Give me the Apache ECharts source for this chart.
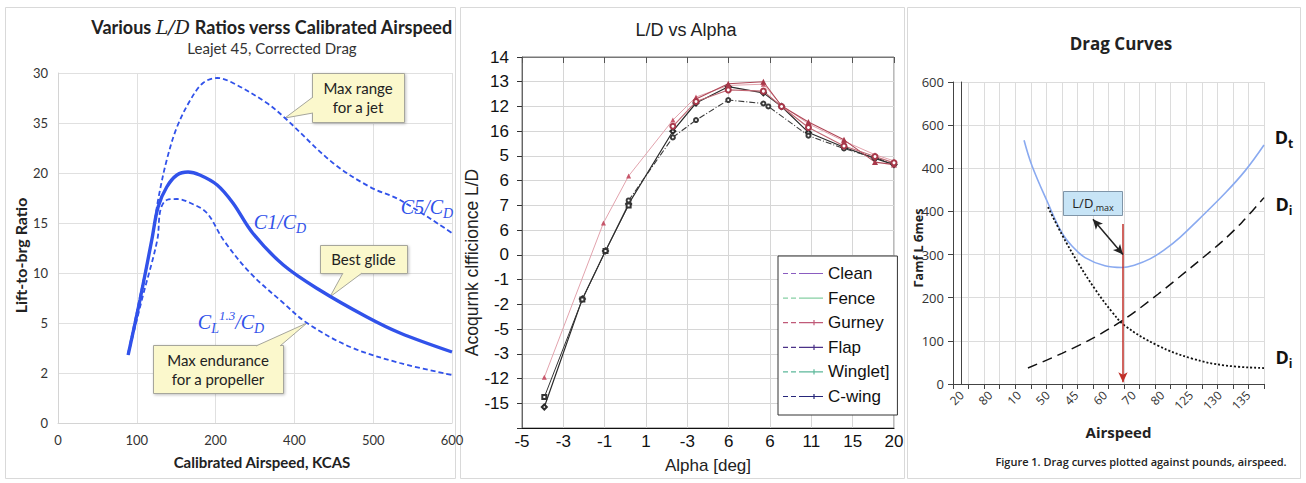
<!DOCTYPE html>
<html><head><meta charset="utf-8">
<script src="https://cdn.jsdelivr.net/npm/echarts@6/dist/echarts.min.js"></script>
<style>html,body{margin:0;padding:0;background:#fff}#c{width:1306px;height:483px}</style>
</head><body><div id="c"></div>
<script>
// ---------- Left panel: Various L/D ratios vs calibrated airspeed ----------
const kcasTicks = ['0','100','200','400','500','600'];
const ratioTicks = ['0','2','5','10','15','20','35','30'];
const c5cd = [[89,7.0],[104,12.6],[119,18.3],[127,22.3],[138,26.3],[151,29.6],[168,32.3],[184,34.0],[202,34.5],[222,34.0],[265,32.0],[288,30.5],[349,26.0],[396,23.6],[434,22.3],[500,19.0]];
const c1cd = [[89,6.8],[104,12.3],[119,18.3],[127,21.6],[138,23.6],[151,24.8],[165,25.1],[180,24.8],[202,23.8],[222,22.0],[247,19.0],[286,15.8],[332,13.3],[392,10.6],[434,9.0],[500,7.1]];
const cl13cd = [[89,6.8],[107,12.5],[126,18.3],[130,21.3],[138,22.3],[151,22.4],[168,22.0],[189,21.0],[210,18.3],[244,15.0],[286,12.0],[316,10.0],[371,7.6],[434,6.0],[500,4.8]];
const maxRangeTip = [288,30.5];
const bestGlideTip = [345,12.6];
const maxEnduranceTip = [316,10.0];

// ---------- Middle panel: L/D vs Alpha ----------
const alphaTicks = ['-5','-3','-1','1','-3','6','6','11','15','20'];
const effTicks = ['','-15','-12','-3','-5','-2','-1','0','6','7','6','5','16','12','13','14'];
const legendNames = ['Clean','Fence','Gurney','Flap','Winglet]','C-wing'];
const cleanLD = [[0.54,0.85],[1.46,5.22],[2.02,7.16],[2.58,9.06],[3.65,12.0],[4.21,13.14],[4.99,13.8],[5.84,13.55],[6.28,13.0],[6.93,11.95],[7.79,11.35],[8.54,10.9],[9.0,10.65]];
const fenceLD = [[2.58,9.2],[3.65,11.75],[4.21,12.45],[4.99,13.26],[5.84,13.12],[5.96,13.0],[6.93,11.82],[7.79,11.3],[8.54,10.92],[9.0,10.7]];
const gurneyLD = [[0.54,2.05],[1.97,8.29],[2.58,10.19],[3.65,12.45],[4.21,13.38],[4.99,13.85],[5.84,13.9],[6.28,13.05],[6.93,12.3],[7.79,11.6],[8.54,11.05],[9.0,10.8]];
const flapLD = [[4.21,13.3],[4.99,13.92],[5.84,14.0],[6.28,13.02],[6.93,12.37],[7.79,11.65],[8.54,10.75],[9.0,10.65]];
const wingletLD = [[3.65,12.2],[4.21,13.2],[4.99,13.67],[5.84,13.62],[6.28,13.0],[6.93,12.15],[7.79,11.4],[8.54,10.98],[9.0,10.72]];
const cwingLD = [[0.54,1.25],[1.46,5.2],[2.02,7.16],[2.58,9.0]];

// ---------- Right panel: Drag curves ----------
const dragTicks = ['0','100','200','300','400','400','600','600'];
const airspeedTicks = ['20','80','10','50','45','60','70','80','125','130','135'];
const dragTotal = [[4.57,565],[5.08,506],[6.11,419],[7.01,350],[7.65,320],[8.49,293],[9.77,274],[10.87,270],[11.7,276],[12.67,290],[13.63,312],[14.6,340],[15.76,380],[17.49,442],[18.78,494],[20,554]];
const dragInduced = [[4.82,37],[7.01,71],[8.94,105],[11.06,151],[13.18,208],[15.37,272],[17.3,330],[18.59,375],[20,432]];
const dragParasite = [[6.11,410],[7.01,346],[8.04,281],[9.13,220],[10.23,167],[11.06,135],[13.18,89],[15.37,59],[17.49,43],[20,37]];
const ldMaxSpeedLine = [[10.93,371],[10.93,4]];
const ldMaxPointer = [[9.0,382],[10.93,300]];

const fontL = 'Lato, "Open Sans", sans-serif';
const fontM = '"Liberation Sans", Arial, sans-serif';
const fontR = '"Open Sans", Lato, sans-serif';
const blue = '#3152ea';

const chart = echarts.init(document.getElementById('c'), null, {renderer:'svg', width:1306, height:483});

function lgIcon(plus){
  let p = 'path://M0,4h5v1.2h-5z M8,4h5v1.2h-5z M16,4h24v1.2h-24z';
  if (plus) p += ' M30.4,2h1.2v5.2h-1.2z M28.5,4h5v1.2h-5z';
  return p;
}
const legendColors = ['#8a5cc0','#86d0a4','#c05a78','#4b3288','#5cb89a','#26267a'];

const option = {
  animation:false,
  backgroundColor:'#fff',
  grid:[
    {left:58, top:73, width:394, height:350},
    {left:522, top:57, width:372, height:371, show:true, borderColor:'#777', borderWidth:1},
    {left:953, top:82, width:311, height:302}
  ],
  xAxis:[
    {gridIndex:0, type:'value', min:0, max:500, interval:100,
      axisLine:{lineStyle:{color:'#d4d4d4'}}, axisTick:{show:false},
      splitLine:{lineStyle:{color:'#e0e0e0'}},
      axisLabel:{formatter:v=>kcasTicks[Math.round(v/100)], color:'#333', fontSize:13, fontFamily:fontL, margin:10},
      name:'Calibrated Airspeed, KCAS', nameLocation:'middle', nameGap:31,
      nameTextStyle:{fontFamily:fontL, fontWeight:'bold', fontSize:15, color:'#222', padding:[0,0,0,14]}},
    {gridIndex:1, type:'value', min:0, max:9, interval:1,
      axisLine:{lineStyle:{color:'#111', width:1.2}}, axisTick:{show:false},
      splitLine:{lineStyle:{color:'#d6d6d6'}},
      axisLabel:{formatter:v=>alphaTicks[Math.round(v)], color:'#111', fontSize:17, fontFamily:fontM, margin:5},
      name:'Alpha [deg]', nameLocation:'middle', nameGap:29,
      nameTextStyle:{fontFamily:fontM, fontSize:17, color:'#222'}},
    {gridIndex:1, type:'value', min:0, max:9, interval:1, position:'top',
      axisLine:{lineStyle:{color:'#777'}}, axisTick:{inside:true, length:6, lineStyle:{color:'#555'}},
      axisLabel:{show:false}, splitLine:{show:false}},
    {gridIndex:2, type:'value', min:0, max:20, interval:1,
      axisLine:{lineStyle:{color:'#444'}}, axisTick:{length:5, lineStyle:{color:'#444'}},
      splitLine:{lineStyle:{color:'#dcdcdc'}}, axisLabel:{show:false},
      name:'Airspeed', nameLocation:'middle', nameGap:40,
      nameTextStyle:{fontFamily:fontR, fontWeight:'bold', fontSize:15, color:'#222', padding:[0,0,0,20]}},
    {gridIndex:2, type:'value', min:-0.3, max:10.55, position:'bottom',
      axisLine:{show:false}, axisTick:{show:false}, splitLine:{show:false},
      axisLabel:{rotate:45, customValues:airspeedTicks.map((t,i)=>i), formatter:v=>airspeedTicks[Math.round(v)] || '', color:'#333', fontSize:12, fontFamily:fontR, margin:9}}
  ],
  yAxis:[
    {gridIndex:0, type:'value', min:0, max:35, interval:5,
      axisLine:{show:true, lineStyle:{color:'#d4d4d4'}}, axisTick:{show:false},
      splitLine:{lineStyle:{color:'#e0e0e0'}},
      axisLabel:{formatter:v=>ratioTicks[Math.round(v/5)], color:'#333', fontSize:13, fontFamily:fontL, margin:10},
      name:'Lift-to-brg Ratio', nameLocation:'middle', nameGap:30,
      nameTextStyle:{fontFamily:fontL, fontWeight:'bold', fontSize:16, color:'#222', padding:[0,0,0,-15]}},
    {gridIndex:1, type:'value', min:0, max:15, interval:1,
      axisLine:{show:true, lineStyle:{color:'#666'}}, axisTick:{show:true, length:5, lineStyle:{color:'#333'}},
      splitLine:{lineStyle:{color:'#d6d6d6'}},
      axisLabel:{formatter:v=>effTicks[Math.round(v)], color:'#111', fontSize:17, fontFamily:fontM, margin:13},
      name:'Acoqurnk clfficionce L/D', nameLocation:'middle', nameGap:33,
      nameTextStyle:{fontFamily:fontM, fontSize:17.5, color:'#222', padding:[0,0,0,-40]}},
    {gridIndex:2, type:'value', min:0, max:700, interval:100,
      axisLine:{show:true, lineStyle:{color:'#444'}}, axisTick:{show:true, length:5, lineStyle:{color:'#444'}},
      splitLine:{lineStyle:{color:'#dcdcdc'}},
      axisLabel:{formatter:v=>dragTicks[Math.round(v/100)], color:'#333', fontSize:13, fontFamily:fontR, margin:9}},
    {gridIndex:2, type:'value', min:0, max:700, interval:100, position:'right',
      axisLine:{show:true, lineStyle:{color:'#444'}}, axisTick:{show:false}, axisLabel:{show:false}, splitLine:{show:false}}
  ],
  legend:{
    orient:'vertical', left:778, top:256, selectedMode:false,
    backgroundColor:'#fff', borderColor:'#333', borderWidth:1, padding:[9,8,10,5],
    itemGap:7.6, itemWidth:40, itemHeight:12, symbolKeepAspect:true,
    textStyle:{fontSize:17, fontFamily:fontM, color:'#111'},
    data: legendNames.map((n,i)=>({name:n, icon:lgIcon(i>=2), itemStyle:{color:legendColors[i]}}))
  },
  series:[
    {name:'C5/CD', type:'line', xAxisIndex:0, yAxisIndex:0, data:c5cd, smooth:0.35, symbol:'none', silent:true,
      lineStyle:{color:blue, width:1.8, type:[5,3]}},
    {name:'C1/CD', type:'line', xAxisIndex:0, yAxisIndex:0, data:c1cd, smooth:0.35, symbol:'none', silent:true,
      lineStyle:{color:blue, width:3.4}},
    {name:'CL1.3/CD', type:'line', xAxisIndex:0, yAxisIndex:0, data:cl13cd, smooth:0.35, symbol:'none', silent:true,
      lineStyle:{color:blue, width:1.8, type:[5,3]}},

    {name:'Clean', type:'line', xAxisIndex:1, yAxisIndex:1, data:cleanLD, symbol:'emptyDiamond', symbolSize:5,
      lineStyle:{color:'#2a2a2a', width:1.2}, itemStyle:{color:'#2a2a2a'}},
    {name:'Fence', type:'line', xAxisIndex:1, yAxisIndex:1, data:fenceLD, symbol:'emptyCircle', symbolSize:4,
      lineStyle:{color:'#3a3a3a', width:1.1, type:[6,2,1,2]}, itemStyle:{color:'#3a3a3a'}},
    {name:'Gurney', type:'line', xAxisIndex:1, yAxisIndex:1, data:gurneyLD, symbol:'triangle', symbolSize:5,
      lineStyle:{color:'#e2a3ad', width:1}, itemStyle:{color:'#c7566a'}},
    {name:'Flap', type:'line', xAxisIndex:1, yAxisIndex:1, data:flapLD, symbol:'triangle', symbolSize:6,
      lineStyle:{color:'#b04858', width:1.1}, itemStyle:{color:'#a8384a'}},
    {name:'Winglet]', type:'line', xAxisIndex:1, yAxisIndex:1, data:wingletLD, symbol:'emptyCircle', symbolSize:5,
      lineStyle:{color:'#c06874', width:1.1}, itemStyle:{color:'#a8384a'}},
    {name:'C-wing', type:'line', xAxisIndex:1, yAxisIndex:1, data:cwingLD, symbol:'emptyRect', symbolSize:4,
      lineStyle:{color:'#333', width:1}, itemStyle:{color:'#333'}},

    {name:'Dt', type:'line', xAxisIndex:3, yAxisIndex:2, data:dragTotal, smooth:0.4, symbol:'none', silent:true,
      lineStyle:{color:'#8aaaf0', width:1.6},
      markLine:{silent:true, animation:false, label:{show:false}, symbolSize:[7,10],
        data:[
          [{coord:ldMaxSpeedLine[0], symbol:'none', lineStyle:{color:'#c0302a', width:1.5, type:'solid'}},
           {coord:ldMaxSpeedLine[1], symbol:'arrow', lineStyle:{color:'#c0302a', width:1.5, type:'solid'}}],
          [{coord:ldMaxPointer[0], symbol:'arrow', lineStyle:{color:'#222', width:1.5, type:'solid'}},
           {coord:ldMaxPointer[1], symbol:'arrow', lineStyle:{color:'#222', width:1.5, type:'solid'}}]
        ]}},
    {name:'Di', type:'line', xAxisIndex:3, yAxisIndex:2, data:dragInduced, smooth:0.3, symbol:'none', silent:true,
      lineStyle:{color:'#111', width:1.5, type:[10,6]}},
    {name:'Dp', type:'line', xAxisIndex:3, yAxisIndex:2, data:dragParasite, smooth:0.4, symbol:'none', silent:true,
      lineStyle:{color:'#111', width:1.8, type:[2,2]}}
  ]
};
chart.setOption(option);

// ---------- annotations ----------
const px = (d)=>chart.convertToPixel({xAxisIndex:0, yAxisIndex:0}, d);
const boxFill = '#fbf8cc', boxStroke = '#a6a69c';
function callout(x,y,w,h,lines,b1,b2,tip){
  const els = [];
  els.push({type:'rect', shape:{x:x+0.5,y:y+0.5,width:w,height:h}, style:{fill:boxFill, stroke:boxStroke, lineWidth:1, shadowBlur:3, shadowColor:'rgba(0,0,0,0.25)', shadowOffsetX:1, shadowOffsetY:1}});
  els.push({type:'polygon', shape:{points:[b1,tip,b2]}, style:{fill:boxFill, stroke:null}});
  els.push({type:'polyline', shape:{points:[b1,tip,b2]}, style:{fill:null, stroke:boxStroke, lineWidth:1}});
  lines.forEach((t,i)=>{
    els.push({type:'text', x:x+w/2, y:y+h/2+(i-(lines.length-1)/2)*19, style:{text:t, fill:'#222', font:'15px '+fontL, textAlign:'center', textVerticalAlign:'middle', align:'center', verticalAlign:'middle'}});
  });
  return els;
}
const T = (x,y,text,rich,extra)=>Object.assign({type:'text', x, y, style:Object.assign({text, rich, textAlign:'center', textVerticalAlign:'middle', align:'center', verticalAlign:'middle'}, extra||{})});

const serif = '"DejaVu Serif", "Liberation Serif", serif';
const capRich = {
  m:{fontFamily:'"Liberation Serif", serif', fontStyle:'italic', fontSize:20, fill:blue, lineHeight:26, verticalAlign:'middle'},
  sub:{fontFamily:'"Liberation Serif", serif', fontStyle:'italic', fontSize:14, fill:blue, lineHeight:14, verticalAlign:'bottom'},
  sup:{fontFamily:'"Liberation Serif", serif', fontStyle:'italic', fontSize:13, fill:blue, lineHeight:13, verticalAlign:'top'}
};
const dRich = {
  m:{fontFamily:fontR, fontWeight:'bold', fontSize:18, fill:'#111', lineHeight:24, verticalAlign:'middle'},
  sub:{fontFamily:fontR, fontWeight:'bold', fontSize:12, fill:'#111', lineHeight:12, verticalAlign:'bottom'}
};

const tMR = px(maxRangeTip), tBG = px(bestGlideTip), tME = px(maxEnduranceTip);
const elements = [
  {type:'rect', shape:{x:5.5,y:7.5,width:450,height:471}, style:{fill:null, stroke:'#d9d9d9', lineWidth:1}},
  {type:'rect', shape:{x:460.5,y:7.5,width:444,height:471}, style:{fill:null, stroke:'#d9d9d9', lineWidth:1}},
  {type:'rect', shape:{x:907.5,y:7.5,width:393,height:471}, style:{fill:null, stroke:'#d9d9d9', lineWidth:1}},
  T(272,27,'{b|Various }{i|L/D}{b| Ratios verss Calibrated Airspeed}', {
    b:{fontFamily:fontL, fontWeight:'bold', fontSize:18, fill:'#222'},
    i:{fontFamily:serif, fontStyle:'italic', fontSize:19, fill:'#222'}}),
  T(272,48,'Leajet 45, Corrected Drag', null, {fill:'#333', font:'15px '+fontL}),
  T(686,30,'L/D vs Alpha', null, {fill:'#222', font:'18px '+fontM}),
  T(1121,43,'Drag Curves', null, {fill:'#222', font:'bold 17px '+fontR}),
  ...callout(312,73,92,49,['Max range','for a jet'],[313,97],[313,113],tMR),
  ...callout(320,245,87,28,['Best glide'],[343,273],[362,273],tBG),
  ...callout(153,345,130,48,['Max endurance','for a propeller'],[256,346],[280,346],tME),
  T(427,207,'{m|C5/C}{sub|D}', capRich),
  T(280,222,'{m|C}{m|1}{m|/C}{sub|D}', capRich),
  T(231,322,'{m|C}{sub|L}{sup|1.3}{m|/C}{sub|D}', capRich),
  {type:'rect', shape:{x:1063.5,y:191.5,width:59,height:24}, style:{fill:'#c7e4f6', stroke:'#7f95a8', lineWidth:1}},
  T(1093,203,'{a|L/D}{b|,max}', {a:{fontFamily:fontR, fontSize:13, fill:'#222', lineHeight:18, verticalAlign:'middle'}, b:{fontFamily:fontR, fontSize:9, fill:'#222', lineHeight:10, verticalAlign:'bottom'}}),
  T(1284,137,'{m|D}{sub|t}', dRich),
  T(1284,204,'{m|D}{sub|i}', dRich),
  T(1284,357,'{m|D}{sub|i}', dRich),
  {type:'text', x:918, y:248, rotation:Math.PI/2, style:{text:'Гamf L бmes', fill:'#222', font:'bold 12.5px '+fontR, textAlign:'center', textVerticalAlign:'middle', align:'center', verticalAlign:'middle'}},
  T(1141,461,'Figure 1. Drag curves plotted against pounds, airspeed.', null, {fill:'#222', font:'600 11px '+fontR})
];
chart.setOption({graphic:{elements}});
</script></body></html>
